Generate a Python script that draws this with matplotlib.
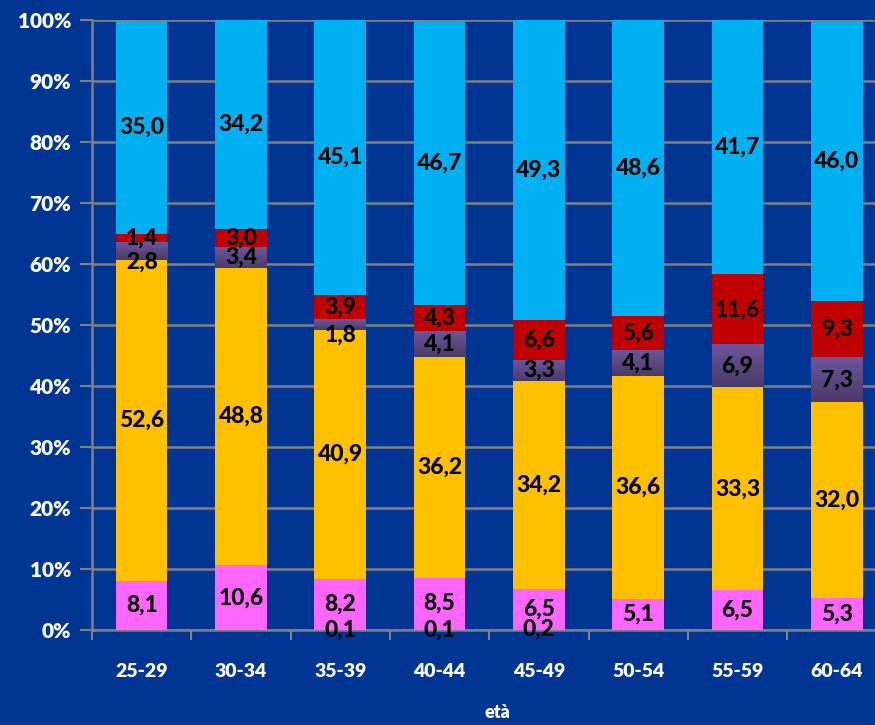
import matplotlib
matplotlib.use("Agg")
import matplotlib.pyplot as plt
import numpy as np
from matplotlib.colors import LinearSegmentedColormap

categories = ["25-29", "30-34", "35-39", "40-44", "45-49", "50-54", "55-59", "60-64"]
s_bottom = [0.0, 0.0, 0.1, 0.1, 0.2, 0.0, 0.0, 0.0]
s_pink = [8.1, 10.6, 8.2, 8.5, 6.5, 5.1, 6.5, 5.3]
s_orange = [52.6, 48.8, 40.9, 36.2, 34.2, 36.6, 33.3, 32.0]
s_purple = [2.8, 3.4, 1.8, 4.1, 3.3, 4.1, 6.9, 7.3]
s_red = [1.4, 3.0, 3.9, 4.3, 6.6, 5.6, 11.6, 9.3]
s_blue = [35.0, 34.2, 45.1, 46.7, 49.3, 48.6, 41.7, 46.0]
y_ticks = [0, 10, 20, 30, 40, 50, 60, 70, 80, 90, 100]

series = [
    (s_bottom, "#FF66FF", "bottom"),
    (s_pink, "#FF66FF", "pink"),
    (s_orange, "#FFC000", "orange"),
    (s_purple, "#604A7B", "purple"),
    (s_red, "#C00000", "red"),
    (s_blue, "#00B0F0", "blue"),
]

BG = "#003594"
FONT = ["Lato", "DejaVu Sans"]
plt.rcParams["font.family"] = FONT

fig = plt.figure(figsize=(8.75, 7.25), dpi=100, facecolor=BG)
ax = fig.add_axes([92 / 875, 95 / 725, 8 * 99.3 / 875, 610 / 725])
ax.set_facecolor(BG)

x = np.arange(len(categories))
width = 0.52
grad = np.linspace(0, 1, 64).reshape(-1, 1)
purple_cmap = LinearSegmentedColormap.from_list("pg", ["#4A3A68", "#6E559A"])

bottom = np.zeros(len(categories))
for vals, color, name in series:
    v = np.array(vals)
    ax.bar(x, v, width, bottom=bottom, color=color, zorder=3, linewidth=0)
    if name == "purple":
        for i, val in enumerate(v):
            ax.imshow(grad, cmap=purple_cmap, origin="lower", aspect="auto",
                      extent=[x[i] - width / 2, x[i] + width / 2, bottom[i], bottom[i] + val],
                      zorder=3.5, interpolation="bilinear")
    for i, val in enumerate(v):
        if val > 0:
            yc = bottom[i] + val / 2
            if name == "purple" and val < 3.0:
                yc -= 1.8
            ax.text(x[i], yc, f"{val:.1f}".replace(".", ","),
                    ha="center", va="center", fontsize=16.5, fontweight="black",
                    color="black", zorder=5)
    bottom += v

ax.set_xlim(-0.5, len(categories) - 0.5)
ax.set_ylim(0, 100)
ax.set_yticks(y_ticks)
ax.set_yticklabels([f"{t}%" for t in y_ticks], color="white", fontsize=15, fontweight="heavy")
ax.set_xticks(x)
ax.set_xticklabels(categories, color="white", fontsize=14, fontweight="heavy")
ax.set_xticks(np.arange(-0.5, len(categories), 1.0), minor=True)
ax.tick_params(axis="x", which="major", length=0, pad=24)
ax.tick_params(axis="x", which="minor", length=7, width=1.5, color="#808080", direction="out")
ax.tick_params(axis="y", length=9, width=1.5, color="#808080", pad=6)
ax.grid(axis="y", color="#808080", linewidth=1.8, zorder=0)
for side in ["top", "right"]:
    ax.spines[side].set_visible(False)
for side in ["left", "bottom"]:
    ax.spines[side].set_color("#808080")
    ax.spines[side].set_linewidth(1.8)

fig.text(497 / 875, 1 - 713 / 725, "età", ha="center", va="center",
         color="white", fontsize=13, fontweight="heavy")

fig.savefig("out.png", dpi=100, facecolor=BG)
